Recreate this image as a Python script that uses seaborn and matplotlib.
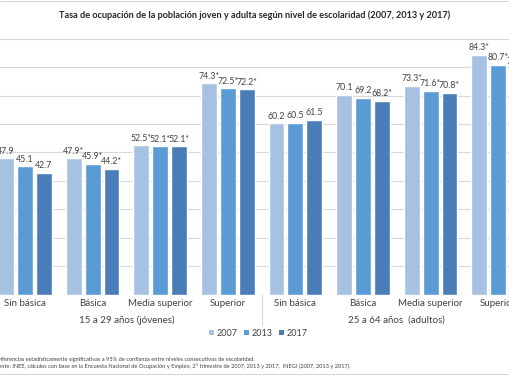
import pandas as pd
import numpy as np
import matplotlib.pyplot as plt
from matplotlib.lines import Line2D
from matplotlib.patches import Patch
import seaborn as sns

sns.set_theme(style="white")
plt.rcParams["font.family"] = ["Lato", "DejaVu Sans"]

# Data
years = ["2007", "2013", "2017"]
categories = ["Sin básica", "Básica", "Media superior", "Superior"]
groups = ["15 a 29 años (jóvenes)", "25 a 64 años  (adultos)"]

v2007 = [47.9, 47.9, 52.5, 74.3, 60.2, 70.1, 73.3, 84.3]
v2013 = [45.1, 45.9, 52.1, 72.5, 60.5, 69.2, 71.6, 80.7]
v2017 = [42.7, 44.2, 52.1, 72.2, 61.5, 68.2, 70.8, 79.4]

l2007 = ["47.9", "47.9*", "52.5*", "74.3*", "60.2", "70.1", "73.3*", "84.3*"]
l2013 = ["45.1", "45.9*", "52.1*", "72.5*", "60.5", "69.2", "71.6*", "80.7*"]
l2017 = ["42.7", "44.2*", "52.1*", "72.2*", "61.5", "68.2*", "70.8*", "79.4*"]

colors = ["#a7c1e2", "#5b9bd5", "#4a7db8"]

# long table
slots = [f"{g}|{c}" for g in groups for c in categories]
rows = []
for year, vals in zip(years, [v2007, v2013, v2017]):
    for s, v in zip(slots, vals):
        rows.append({"slot": s, "Año": year, "Tasa": v})
df = pd.DataFrame(rows)

fig = plt.figure(figsize=(5.1, 3.82), dpi=100)
# axes extends past the figure edges (reference is a cropped image)
ax = fig.add_axes([-0.0173, 0.229, 1.0604, 0.6697])

sns.barplot(data=df, x="slot", y="Tasa", hue="Año", order=slots,
            palette=colors, width=0.84, gap=0.16, ax=ax, legend=False,
            saturation=1)

for cont, labs in zip(ax.containers, [l2007, l2013, l2017]):
    ax.bar_label(cont, labels=labs, padding=2, fontsize=6.3, color="#404040")

ax.set_ylim(0, 90)
ax.set_xlim(-0.5, 7.5)
ax.set_yticks(np.arange(0, 91, 10))
ax.yaxis.grid(True, color="#d9d9d9", linewidth=0.8)
ax.set_axisbelow(True)
ax.tick_params(axis="y", left=False, labelleft=False)
ax.set_xticks(range(len(slots)))
ax.set_xticklabels(categories * 2, fontsize=7, color="#404040")
ax.tick_params(axis="x", bottom=False, pad=-2.5)
ax.set_xlabel("")
ax.set_ylabel("")
for sp in ax.spines.values():
    sp.set_visible(False)

# group labels and separators
trans = ax.get_xaxis_transform()
for i, g in enumerate(groups):
    ax.text(i * 4 + 1.5, -0.10, g, transform=trans, ha="center", va="center",
            fontsize=7, color="#404040")
for xs in [-0.5, 3.5, 7.5]:
    ax.plot([xs, xs], [0, -0.12], transform=trans, color="#d9d9d9",
            linewidth=0.8, clip_on=False)

# legend
handles = [Patch(facecolor=c, edgecolor="none") for c in colors]
fig.legend(handles, years, loc="center", bbox_to_anchor=(0.506, 0.128), ncol=3,
           frameon=False, fontsize=6.5, handlelength=0.55, handleheight=0.55,
           handletextpad=0.3, columnspacing=0.7, labelcolor="#404040")

fig.text(0.5, 0.961, "Tasa de ocupación de la población joven y adulta según nivel de escolaridad (2007, 2013 y 2017)",
         ha="center", va="center", fontsize=6.6, fontweight="bold", color="#262626")

fig.text(-0.012, 0.060, "*Diferencias estadísticamente significativas a 95% de confianza entre niveles consecutivos de escolaridad.",
         ha="left", va="center", fontsize=4.1, color="#404040")
fig.text(-0.016, 0.042, "Fuente: INEE, cálculos con base en la Encuesta Nacional de Ocupación y Empleo, 2° trimestre de 2007, 2013 y 2017,  INEGI (2007, 2013 y 2017).",
         ha="left", va="center", fontsize=4.1, color="#404040")

fig.add_artist(Line2D([0, 1], [0.022, 0.022], color="#d9d9d9", linewidth=0.8))
fig.add_artist(Line2D([0, 1], [0.997, 0.997], color="#d9d9d9", linewidth=0.8))

fig.savefig("out.png", dpi=100)
